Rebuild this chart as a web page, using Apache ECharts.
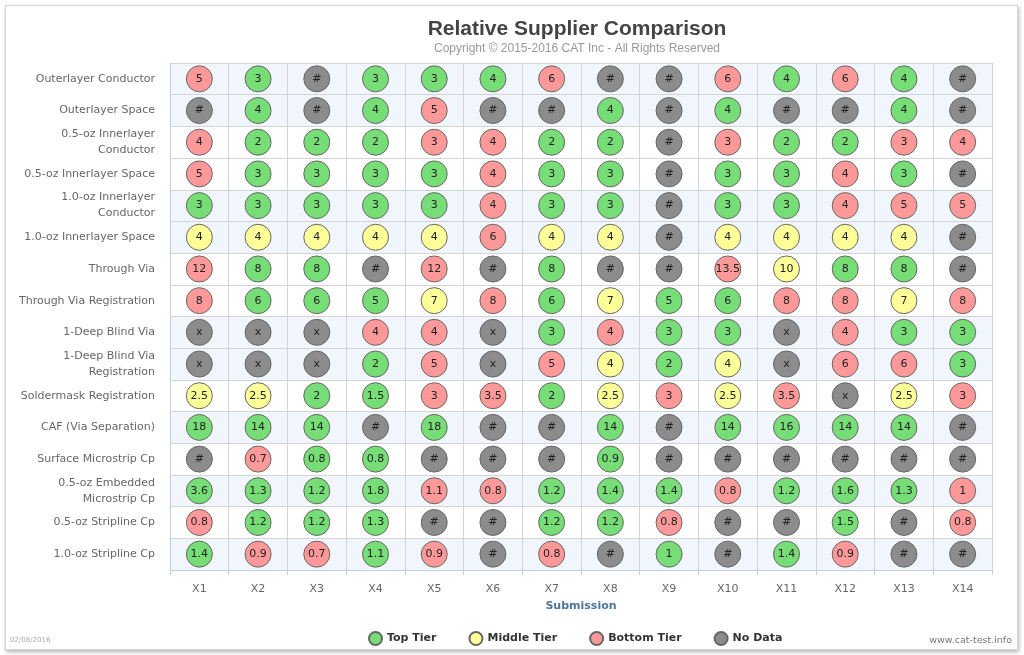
<!DOCTYPE html>
<html>
<head>
<meta charset="utf-8">
<script src="https://cdn.jsdelivr.net/npm/echarts@6/dist/echarts.min.js"></script>
<style>
  body { margin: 0; background: #fff; }
  #card { position: absolute; left: 5px; top: 5px; width: 1011px; height: 643px; border: 1px solid #d6d6d6; box-shadow: 1px 2px 4px rgba(0,0,0,0.3); background: #fff; }
  #main { position: absolute; left: 0; top: 0; width: 1024px; height: 655px; }
</style>
</head>
<body>
<div id="card"></div>
<div id="main"></div>
<script type="text/javascript">
// columns (submissions) and rows (metrics)
var submissions = ['X1', 'X2', 'X3', 'X4', 'X5', 'X6', 'X7', 'X8', 'X9', 'X10', 'X11', 'X12', 'X13', 'X14'];
var metrics = [
    'Outerlayer Conductor',
    'Outerlayer Space',
    '0.5-oz Innerlayer\nConductor',
    '0.5-oz Innerlayer Space',
    '1.0-oz Innerlayer\nConductor',
    '1.0-oz Innerlayer Space',
    'Through Via',
    'Through Via Registration',
    '1-Deep Blind Via',
    '1-Deep Blind Via\nRegistration',
    'Soldermask Registration',
    'CAF (Via Separation)',
    'Surface Microstrip Cp',
    '0.5-oz Embedded\nMicrostrip Cp',
    '0.5-oz Stripline Cp',
    '1.0-oz Stripline Cp'
];

// text shown in each cell, one row per metric
var scores = [
    ['5', '3', '#', '3', '3', '4', '6', '#', '#', '6', '4', '6', '4', '#'],
    ['#', '4', '#', '4', '5', '#', '#', '4', '#', '4', '#', '#', '4', '#'],
    ['4', '2', '2', '2', '3', '4', '2', '2', '#', '3', '2', '2', '3', '4'],
    ['5', '3', '3', '3', '3', '4', '3', '3', '#', '3', '3', '4', '3', '#'],
    ['3', '3', '3', '3', '3', '4', '3', '3', '#', '3', '3', '4', '5', '5'],
    ['4', '4', '4', '4', '4', '6', '4', '4', '#', '4', '4', '4', '4', '#'],
    ['12', '8', '8', '#', '12', '#', '8', '#', '#', '13.5', '10', '8', '8', '#'],
    ['8', '6', '6', '5', '7', '8', '6', '7', '5', '6', '8', '8', '7', '8'],
    ['x', 'x', 'x', '4', '4', 'x', '3', '4', '3', '3', 'x', '4', '3', '3'],
    ['x', 'x', 'x', '2', '5', 'x', '5', '4', '2', '4', 'x', '6', '6', '3'],
    ['2.5', '2.5', '2', '1.5', '3', '3.5', '2', '2.5', '3', '2.5', '3.5', 'x', '2.5', '3'],
    ['18', '14', '14', '#', '18', '#', '#', '14', '#', '14', '16', '14', '14', '#'],
    ['#', '0.7', '0.8', '0.8', '#', '#', '#', '0.9', '#', '#', '#', '#', '#', '#'],
    ['3.6', '1.3', '1.2', '1.8', '1.1', '0.8', '1.2', '1.4', '1.4', '0.8', '1.2', '1.6', '1.3', '1'],
    ['0.8', '1.2', '1.2', '1.3', '#', '#', '1.2', '1.2', '0.8', '#', '#', '1.5', '#', '0.8'],
    ['1.4', '0.9', '0.7', '1.1', '0.9', '#', '0.8', '#', '1', '#', '1.4', '0.9', '#', '#']
];

// tier of each cell: T = top, M = middle, B = bottom, N = no data
var tiers = [
    'BTNTTTBNNBTBTN',
    'NTNTBNNTNTNNTN',
    'BTTTBBTTNBTTBB',
    'BTTTTBTTNTTBTN',
    'TTTTTBTTNTTBBB',
    'MMMMMBMMNMMMMN',
    'BTTNBNTNNBMTTN',
    'BTTTMBTMTTBBMB',
    'NNNBBNTBTTNBTT',
    'NNNTBNBMTMNBBT',
    'MMTTBBTMBMBNMB',
    'TTTNTNNTNTTTTN',
    'NBTTNNNTNNNNNN',
    'TTTTBBTTTBTTTB',
    'BTTTNNTTBNNTNB',
    'TBBTBNBNTNTBNN'
];

var tierCodes = ['T', 'M', 'B', 'N'];
var tierNames = ['Top Tier', 'Middle Tier', 'Bottom Tier', 'No Data'];
var tierColors = ['#77dd77', '#ffff99', '#ff9999', '#8c8c8c'];

// shaded rows (light blue bands)
var bandRows = [0, 1, 4, 5, 8, 9, 11, 13, 15];
var bandColors = metrics.map(function (m, i) {
    return bandRows.indexOf(i) >= 0 ? '#f1f6fc' : '#ffffff';
});

var series = tierCodes.map(function (code, k) {
    var pts = [];
    for (var r = 0; r < metrics.length; r++) {
        for (var c = 0; c < submissions.length; c++) {
            if (tiers[r][c] === code) {
                pts.push({ name: scores[r][c], value: [c, r] });
            }
        }
    }
    return {
        name: tierNames[k],
        type: 'scatter',
        symbol: 'circle',
        symbolSize: 26,
        data: pts,
        itemStyle: { color: tierColors[k], borderColor: '#666', borderWidth: 1, opacity: 1 },
        label: {
            show: true,
            position: 'inside',
            formatter: '{b}',
            color: '#222',
            fontSize: 11,
            fontFamily: 'DejaVu Sans'
        },
        emphasis: { disabled: true }
    };
});

var myChart = echarts.init(document.getElementById('main'));

var option = {
    animation: false,
    title: {
        text: 'Relative Supplier Comparison',
        subtext: 'Copyright \u00a9 2015-2016 CAT Inc - All Rights Reserved',
        left: 577,
        top: 19,
        padding: 0,
        itemGap: 3,
        textAlign: 'center',
        textStyle: { fontFamily: 'Liberation Sans', fontSize: 21, fontWeight: 'bold', color: '#444' },
        subtextStyle: { fontFamily: 'Liberation Sans', fontSize: 12, color: '#999' }
    },
    legend: {
        left: 363,
        top: 626,
        itemGap: 32,
        itemWidth: 13,
        itemHeight: 13,
        icon: 'circle',
        textStyle: { fontFamily: 'DejaVu Sans', fontSize: 11, fontWeight: 'bold', color: '#333' },
        data: tierNames
    },
    grid: { left: 170, right: 32, top: 63, bottom: 85 },
    xAxis: {
        type: 'category',
        data: submissions,
        name: 'Submission',
        nameLocation: 'middle',
        nameGap: 31,
        nameTextStyle: { fontFamily: 'DejaVu Sans', fontSize: 11, fontWeight: 'bold', color: '#4d759e' },
        axisLine: { lineStyle: { color: '#c0d0e0' } },
        axisTick: { show: true, length: 5, lineStyle: { color: '#c0d0e0' } },
        axisLabel: { fontFamily: 'DejaVu Sans', fontSize: 11, color: '#666', margin: 14 },
        splitLine: { show: true, lineStyle: { color: '#d4d4d4' } }
    },
    yAxis: {
        type: 'category',
        data: metrics,
        inverse: true,
        axisLine: { show: true, lineStyle: { color: '#c0d0e0' } },
        axisTick: { show: false },
        axisLabel: { fontFamily: 'DejaVu Sans', fontSize: 11, color: '#666', margin: 15, lineHeight: 16 },
        splitLine: { show: true, lineStyle: { color: '#d4d4d4' } },
        splitArea: { show: true, areaStyle: { color: bandColors } }
    },
    graphic: [
        {
            type: 'text', left: 10, top: 637,
            style: { text: '02/08/2016', fontFamily: 'DejaVu Sans', fontSize: 7, fill: '#aaa' }
        },
        {
            type: 'text', right: 12, top: 636,
            style: { text: 'www.cat-test.info', fontFamily: 'DejaVu Sans', fontSize: 9.5, fill: '#777' }
        }
    ],
    series: series
};

myChart.setOption(option);
</script>
</body>
</html>
